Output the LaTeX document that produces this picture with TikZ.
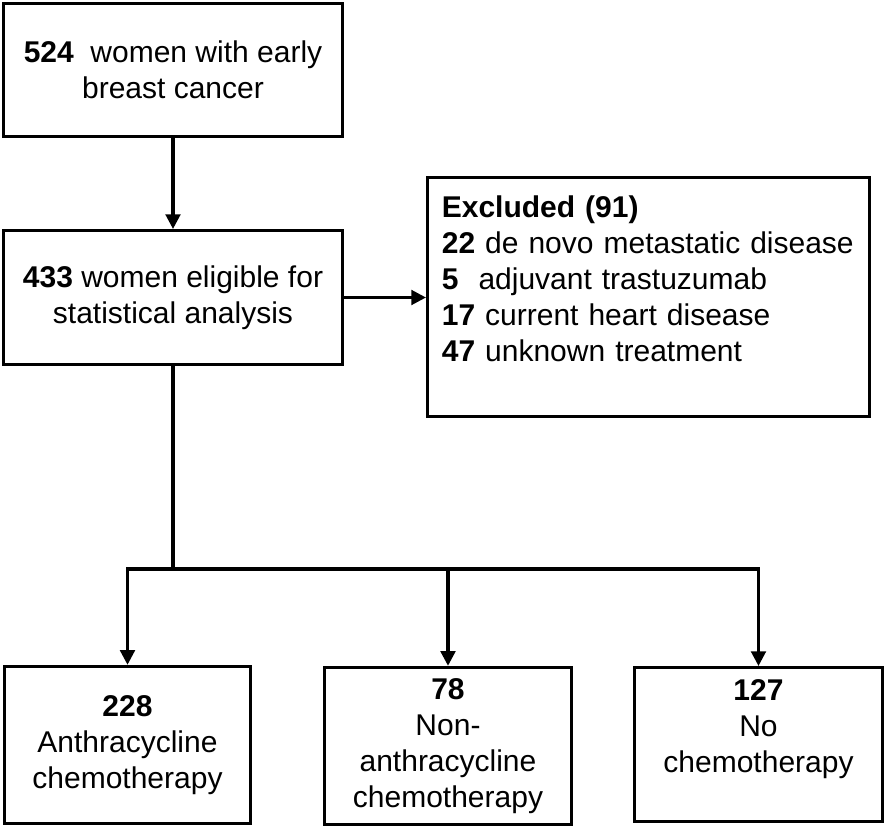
\documentclass[tikz,border=0pt]{standalone}
\usepackage{fontspec}
\setmainfont{Liberation Sans}
\usetikzlibrary{arrows.meta}

\begin{document}
\begin{tikzpicture}[x=0.75pt,y=-0.75pt,
        box/.style={draw, line width=2.3pt, align=center, inner sep=0pt, font=\fontsize{22.5}{27}\selectfont},
        link/.style={line width=2.3pt},
        arr/.style={line width=2.3pt, -{Triangle[length=11pt,width=11pt]}}]
            \useasboundingbox (0,0) rectangle (886,831);
            \node[box, minimum width=254pt, minimum height=100pt] (women) at (173,70) {\textbf{524}~ women with early\\breast cancer};
            \node[box, minimum width=254pt, minimum height=100.5pt] (elig) at (173,297.5) {\textbf{433} women eligible for\\statistical analysis};
            \node[box, align=left, text width=310pt, minimum width=331.5pt, minimum height=179pt] (excl) at (648.5,297) {\textbf{Excluded (91)}\\\textbf{22} de novo metastatic disease\\\textbf{5}~ adjuvant trastuzumab\\\textbf{17} current heart disease\\\textbf{47} unknown treatment\\\mbox{}};
            \node[box, minimum width=184.5pt, minimum height=118pt] (anth) at (127.5,745) {\textbf{228}\\Anthracycline\\chemotherapy};
            \node[box, minimum width=185pt, minimum height=118pt] (nonanth) at (448,746) {\textbf{78}\\Non-\\anthracycline\\chemotherapy};
            \node[box, minimum width=186pt, minimum height=115.5pt] (none) at (758.5,744.5) {\textbf{127}\\No\\chemotherapy\\\mbox{}};
            \coordinate (split) at (173,569);
            \draw[arr] (women) -- (elig);
            \draw[arr] (elig.east) -- (elig.east -| excl.west);
            \draw[link] (elig) -- (split);
            \draw[link, line cap=rect] (split -| anth.north) -- (split -| none.north);
            \foreach \n in {anth,nonanth,none}
                \draw[arr] (split -| \n.north) -- (\n.north);
        \end{tikzpicture}
\end{document}
